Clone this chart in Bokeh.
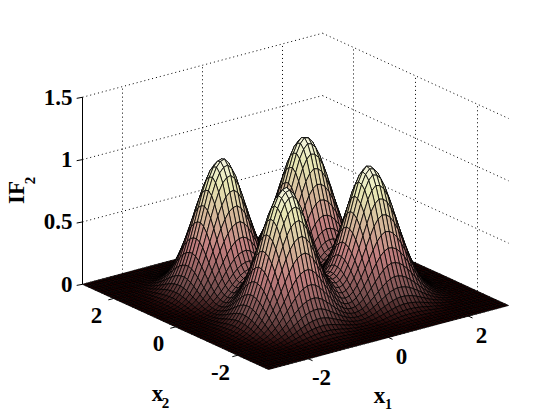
from bokeh.plotting import figure
from bokeh.models import Range1d
from bokeh.core.properties import value
from bokeh.embed import file_html
from bokeh.resources import INLINE
import numpy as np

# Section of the surface along one input (x from -3 to 3, step 0.1)
profile = [.001, .002, .003, .006, .012, .021, .035, .056, .088, .133, .193, .269, .362,
           .468, .585, .704, .817, .912, .983, 1.02, 1.03, .994, .924, .821, .710, .598,
           .489, .397, .325, .281,
           .266,
           .281, .325, .397, .489, .598, .710, .821, .924, .994, 1.03, 1.02, .983, .912,
           .817, .704, .585, .468, .362, .269, .193, .133, .088, .056, .035, .021, .012,
           .006, .003, .002, .001]
x_limits = [-3, 3]
z_limits = [0, 1.5]
x1_ticks = [-2, 0, 2]
x2_ticks = [2, 0, -2]
z_ticks = [0, 0.5, 1, 1.5]
z_labels = ["0", "0.5", "1", "1.5"]
# pink colormap stops
cmap_pos = [0, .125, .25, .375, .5, .625, .75, .875, 1]
cmap_r = [.118, .441, .624, .764, .816, .866, .913, .957, 1]
cmap_g = [0, .289, .408, .5, .667, .799, .913, .957, 1]
cmap_b = [0, .289, .408, .5, .577, .645, .707, .866, 1]
color_top = 1.2

# view: screen position of the front corner and screen vectors per unit
ORG = (268.0, 369.0)
UX1 = (40.0, -10.67)
UX2 = (-31.0, -14.2)
UZ = -124.7


def proj(x1, x2, z):
    x1 = np.asarray(x1, float) + 3
    x2 = np.asarray(x2, float) + 3
    z = np.asarray(z, float)
    return ORG[0] + x1 * UX1[0] + x2 * UX2[0], ORG[1] + x1 * UX1[1] + x2 * UX2[1] + z * UZ


p = figure(width=552, height=412, x_range=Range1d(0, 552), y_range=Range1d(412, 0),
           x_axis_type=None, y_axis_type=None, toolbar_location=None, output_backend="svg",
           min_border=0, outline_line_color=None, background_fill_color="white")
p.grid.visible = False

lo, hi = x_limits
zt = z_limits[1]
dot = dict(line_color="black", line_width=1, line_dash="1 3")


def seg(a, b, **kw):
    sx, sy = proj([a[0], b[0]], [a[1], b[1]], [a[2], b[2]])
    p.line(sx.tolist(), sy.tolist(), **kw)


# back walls
for z in z_ticks[1:]:
    seg((lo, hi, z), (hi, hi, z), **dot)
    seg((hi, hi, z), (hi, lo, z), **dot)
for t in x1_ticks:
    seg((t, hi, 0), (t, hi, zt), **dot)
for t in x2_ticks:
    seg((hi, t, 0), (hi, t, zt), **dot)

# surface
n = len(profile)
grid = np.linspace(lo, hi, n)
Z = np.outer(profile, profile)
xs, ys, cols = [], [], []
for i in range(n - 2, -1, -1):
    for j in range(n - 2, -1, -1):
        sx, sy = proj([grid[i], grid[i + 1], grid[i + 1], grid[i]],
                      [grid[j], grid[j], grid[j + 1], grid[j + 1]],
                      [Z[i, j], Z[i + 1, j], Z[i + 1, j + 1], Z[i, j + 1]])
        g = min(1.0, float(np.mean([Z[i, j], Z[i + 1, j], Z[i + 1, j + 1], Z[i, j + 1]])) / color_top)
        cols.append("#%02x%02x%02x" % tuple(int(round(255 * np.interp(g, cmap_pos, c)))
                                            for c in (cmap_r, cmap_g, cmap_b)))
        xs.append(sx.tolist())
        ys.append(sy.tolist())
p.patches(xs, ys, fill_color=cols, line_color="black", line_width=0.8)

# axes
solid = dict(line_color="black", line_width=1)
seg((lo, hi, 0), (lo, hi, zt), **solid)
for z in z_ticks:
    seg((lo, hi, z), (lo - 0.13, hi + 0.02, z), **solid)
for t in x1_ticks:
    seg((t, lo, 0), (t, lo - 0.13, 0), **solid)
for t in x2_ticks:
    seg((lo, t, 0), (lo - 0.13, t, 0), **solid)

font = value("Liberation Serif")
txt = dict(text_font=font, text_font_style="bold", text_color="black")


def label(x, y, s, size, align="center", angle=0):
    p.text([x], [y], text=[s], text_font_size=f"{size}px", text_align=align,
           text_baseline="middle", angle=angle, **txt)


for z, s in zip(z_ticks, z_labels):
    _, sy = proj(lo, hi, z)
    label(72, float(sy), s, 23, "right")

for t, s in zip(x1_ticks, ["-2", "0", "2"]):
    sx, sy = proj(t, lo, 0)
    label(float(sx) + 13, float(sy) + 19, s, 23)
for t, s in zip(x2_ticks, ["2", "0", "-2"]):
    sx, sy = proj(lo, t, 0)
    label(float(sx) - 17, float(sy) + 17, s, 23)

label(379, 395, "x", 23)
label(388, 403, "1", 14)
label(157, 393, "x", 23)
label(165, 402, "2", 15)
label(16, 192, "IF", 23, angle=np.pi / 2)
label(29, 180, "2", 15, angle=np.pi / 2)

open("out.html", "w").write(file_html(p, INLINE))
